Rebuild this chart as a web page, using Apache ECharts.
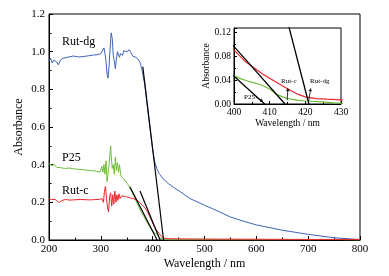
<!DOCTYPE html>
<html>
<head>
<meta charset="utf-8">
<script src="https://cdn.jsdelivr.net/npm/echarts@6/dist/echarts.min.js"></script>
<style>html,body{margin:0;padding:0;background:#fff}#c{width:389px;height:276px}</style>
</head>
<body>
<div id="c"></div>
<script>
// ---- data ----
const wlDg = [200,203,206,209,212,215,218,222,227,235,247,257,266,276,286,295,300,303,306,308,310,312,314,316,318,320,322,324,326,328,330,332,334,336,338,340,342,344,346,350,355,358,362,368,372,376,379,381,385,390,395,400,403,405,408,412,420,430,440,453,472,500,530,550,575,600,650,700,750,800];
const absDg = [0.95,0.965,0.94,0.955,0.965,0.945,0.93,0.955,0.965,0.97,0.977,0.972,0.974,0.978,0.982,0.985,0.99,0.995,1.02,0.99,0.95,0.88,0.86,0.93,1.02,1.10,1.07,0.98,0.95,0.91,0.96,1.0,1.01,0.97,0.99,1.0,0.98,1.005,0.995,1.0,1.01,0.995,0.975,0.97,0.96,0.94,0.91,0.88,0.82,0.70,0.59,0.48,0.43,0.405,0.38,0.355,0.325,0.30,0.28,0.257,0.22,0.185,0.148,0.122,0.10,0.08,0.052,0.03,0.012,0.002];

const wlP25 = [200,203,206,210,215,220,230,240,250,260,270,280,290,298,300,302,304,306,308,310,312,314,316,318,319,320,322,324,326,328,330,332,334,336,338,340,344,348,352,356,360,365,370,375,380,385,390,395,400,402,404,406,408,410,412,414,416,418,420,424,428,432,500,600,700,750,800];
const absP25 = [0.405,0.41,0.395,0.40,0.385,0.385,0.38,0.382,0.377,0.375,0.372,0.368,0.366,0.36,0.37,0.39,0.36,0.40,0.35,0.42,0.31,0.30,0.40,0.47,0.50,0.45,0.38,0.40,0.35,0.44,0.37,0.41,0.36,0.40,0.35,0.335,0.325,0.31,0.295,0.28,0.255,0.225,0.195,0.165,0.14,0.115,0.09,0.068,0.047,0.042,0.038,0.035,0.031,0.025,0.016,0.011,0.008,0.006,0.005,0.004,0.002,0.001,0.001,0.001,0.002,0.003,0.0];

const wlC = [200,202,205,208,212,216,220,225,232,240,260,280,298,302,305,307,309,311,313,315,317,319,321,323,325,327,329,331,333,335,337,340,343,348,355,362,370,375,380,385,390,395,400,403,405,408,410,412,414,416,418,420,423,426,430,450,500,600,700,800];
const absC = [0.22,0.23,0.215,0.225,0.215,0.205,0.20,0.21,0.215,0.212,0.215,0.213,0.216,0.22,0.20,0.26,0.285,0.22,0.17,0.15,0.23,0.25,0.18,0.24,0.19,0.26,0.20,0.24,0.21,0.245,0.22,0.235,0.225,0.23,0.225,0.22,0.212,0.20,0.185,0.17,0.15,0.122,0.09,0.072,0.063,0.05,0.043,0.036,0.029,0.022,0.016,0.012,0.009,0.008,0.007,0.006,0.005,0.004,0.003,0.003];

// tangent lines (x-intercept extrapolation)
const tanDgWl = [381, 421], tanDgAbs = [0.92, 0];
const tanCWl = [375.6, 414.3], tanCAbs = [0.26, 0];
const tanP25Wl = [356, 408.6], tanP25Abs = [0.283, 0];

// arrows in inset: [fromWl, fromAbs, toWl, toAbs]
const arrowC = [414.9, 0.006, 415.1, 0.026];
const arrowDg = [420.9, 0.003, 421.5, 0.026];
const arrowP25 = [406.1, 0.0117, 408.1, 0.0043];

const mainXTicks = [200, 800, 100];
const mainYTicks = [0, 1.2, 0.2];
const insetXTicks = [400, 430, 10];
const insetYTicks = [0, 0.127, 0.04];

// ---- build ----
const pairs = (xs, ys) => xs.map((x, i) => [x, ys[i]]);
const FONT = 'Liberation Serif';
const BLUE = '#3d63b8', RED = '#e8282c', GREEN = '#6cbd3c';

function axisCommon(fs) {
  return {
    axisLine: { lineStyle: { color: '#000', width: 1 } },
    axisTick: { inside: true, length: 4, lineStyle: { color: '#000' } },
    minorTick: { show: true, splitNumber: 2, length: 2.5, lineStyle: { color: '#000' } },
    splitLine: { show: false },
    nameMoveOverlap: false,
    axisLabel: { color: '#000', fontFamily: FONT, fontSize: fs },
    nameTextStyle: { color: '#000', fontFamily: FONT, fontSize: fs + 1 }
  };
}

function lineSeries(xi, data, color, width, z) {
  return { type: 'line', xAxisIndex: xi, yAxisIndex: xi, data: data, showSymbol: false, symbol: 'none',
    lineStyle: { color: color, width: width }, itemStyle: { color: color }, z: z || 2, animation: false, silent: true };
}

function arrow(a) {
  return [{ coord: [a[0], a[1]] }, { coord: [a[2], a[3]] }];
}

const chart = echarts.init(document.getElementById('c'), null, { renderer: 'canvas' });
chart.setOption({
  backgroundColor: '#fff',
  animation: false,
  grid: [
    { left: 49, right: 29, top: 14, bottom: 36, show: true, borderColor: '#000', borderWidth: 1, backgroundColor: 'transparent' },
    { left: 234, right: 48, top: 28, bottom: 172, show: true, borderColor: '#000', borderWidth: 1, backgroundColor: 'transparent' }
  ],
  xAxis: [
    Object.assign(axisCommon(11), { type: 'value', gridIndex: 0, min: mainXTicks[0], max: mainXTicks[1], interval: mainXTicks[2],
      name: 'Wavelength / nm', nameLocation: 'middle', nameGap: 18, axisLabel: { color: '#000', fontFamily: FONT, fontSize: 11, margin: 4 } }),
    Object.assign(axisCommon(9.5), { type: 'value', gridIndex: 1, min: insetXTicks[0], max: insetXTicks[1], interval: insetXTicks[2],
      name: 'Wavelength / nm', nameLocation: 'middle', nameGap: 14,
      axisTick: { inside: true, length: 3, lineStyle: { color: '#000' } },
      minorTick: { show: true, splitNumber: 2, length: 2, lineStyle: { color: '#000' } },
      axisLabel: { color: '#000', fontFamily: FONT, fontSize: 9.5, margin: 3 },
      nameTextStyle: { color: '#000', fontFamily: FONT, fontSize: 9.5 } })
  ],
  yAxis: [
    Object.assign(axisCommon(11), { type: 'value', gridIndex: 0, min: mainYTicks[0], max: mainYTicks[1], interval: mainYTicks[2],
      name: 'Absorbance', nameLocation: 'middle', nameGap: 24,
      axisLabel: { color: '#000', fontFamily: FONT, fontSize: 11, margin: 4, formatter: v => v.toFixed(1) } }),
    Object.assign(axisCommon(9.5), { type: 'value', gridIndex: 1, min: insetYTicks[0], max: insetYTicks[1], interval: insetYTicks[2],
      name: 'Absorbance', nameLocation: 'middle', nameGap: 23,
      axisTick: { inside: true, length: 3, lineStyle: { color: '#000' } },
      minorTick: { show: true, splitNumber: 2, length: 2, lineStyle: { color: '#000' } },
      axisLabel: { color: '#000', fontFamily: FONT, fontSize: 9.5, margin: 3, showMaxLabel: false, formatter: v => v.toFixed(2) },
      nameTextStyle: { color: '#000', fontFamily: FONT, fontSize: 9.5 } })
  ],
  series: [
    lineSeries(0, pairs(wlDg, absDg), BLUE, 1),
    lineSeries(0, pairs(wlP25, absP25), GREEN, 1),
    lineSeries(0, pairs(wlC, absC), RED, 1, 3),
    lineSeries(0, pairs(tanDgWl, tanDgAbs), '#000', 1.2, 5),
    lineSeries(0, pairs(tanCWl, tanCAbs), '#000', 1.2, 5),
    lineSeries(0, pairs(tanP25Wl, tanP25Abs), '#000', 1.2, 5),
    lineSeries(1, pairs(wlP25, absP25), GREEN, 1.2),
    lineSeries(1, pairs(wlC, absC), RED, 1.2, 3),
    lineSeries(1, pairs(tanDgWl, tanDgAbs), '#000', 1.3, 5),
    lineSeries(1, pairs(tanCWl, tanCAbs), '#000', 1.3, 5),
    Object.assign(lineSeries(1, pairs(tanP25Wl, tanP25Abs), '#000', 1.3, 5), {
      markLine: { silent: true, animation: false, symbol: ['none', 'arrow'], symbolSize: 3,
        label: { show: false }, lineStyle: { color: '#000', width: 0.8, type: 'solid' },
        data: [arrow(arrowC), arrow(arrowDg), arrow(arrowP25)] }
    })
  ],
  graphic: [
    { type: 'text', left: 62, top: 36, style: { text: 'Rut-dg', font: '12px "Liberation Serif"', fill: '#000' } },
    { type: 'text', left: 62, top: 152, style: { text: 'P25', font: '12px "Liberation Serif"', fill: '#000' } },
    { type: 'text', left: 62, top: 185, style: { text: 'Rut-c', font: '12px "Liberation Serif"', fill: '#000' } },
    { type: 'text', left: 281, top: 78, style: { text: 'Rut-c', font: '7px "Liberation Serif"', fill: '#000' } },
    { type: 'text', left: 310, top: 78, style: { text: 'Rut-dg', font: '7px "Liberation Serif"', fill: '#000' } },
    { type: 'text', left: 244, top: 94, style: { text: 'P25', font: '7px "Liberation Serif"', fill: '#000' } }
  ]
});
</script>
</body>
</html>
